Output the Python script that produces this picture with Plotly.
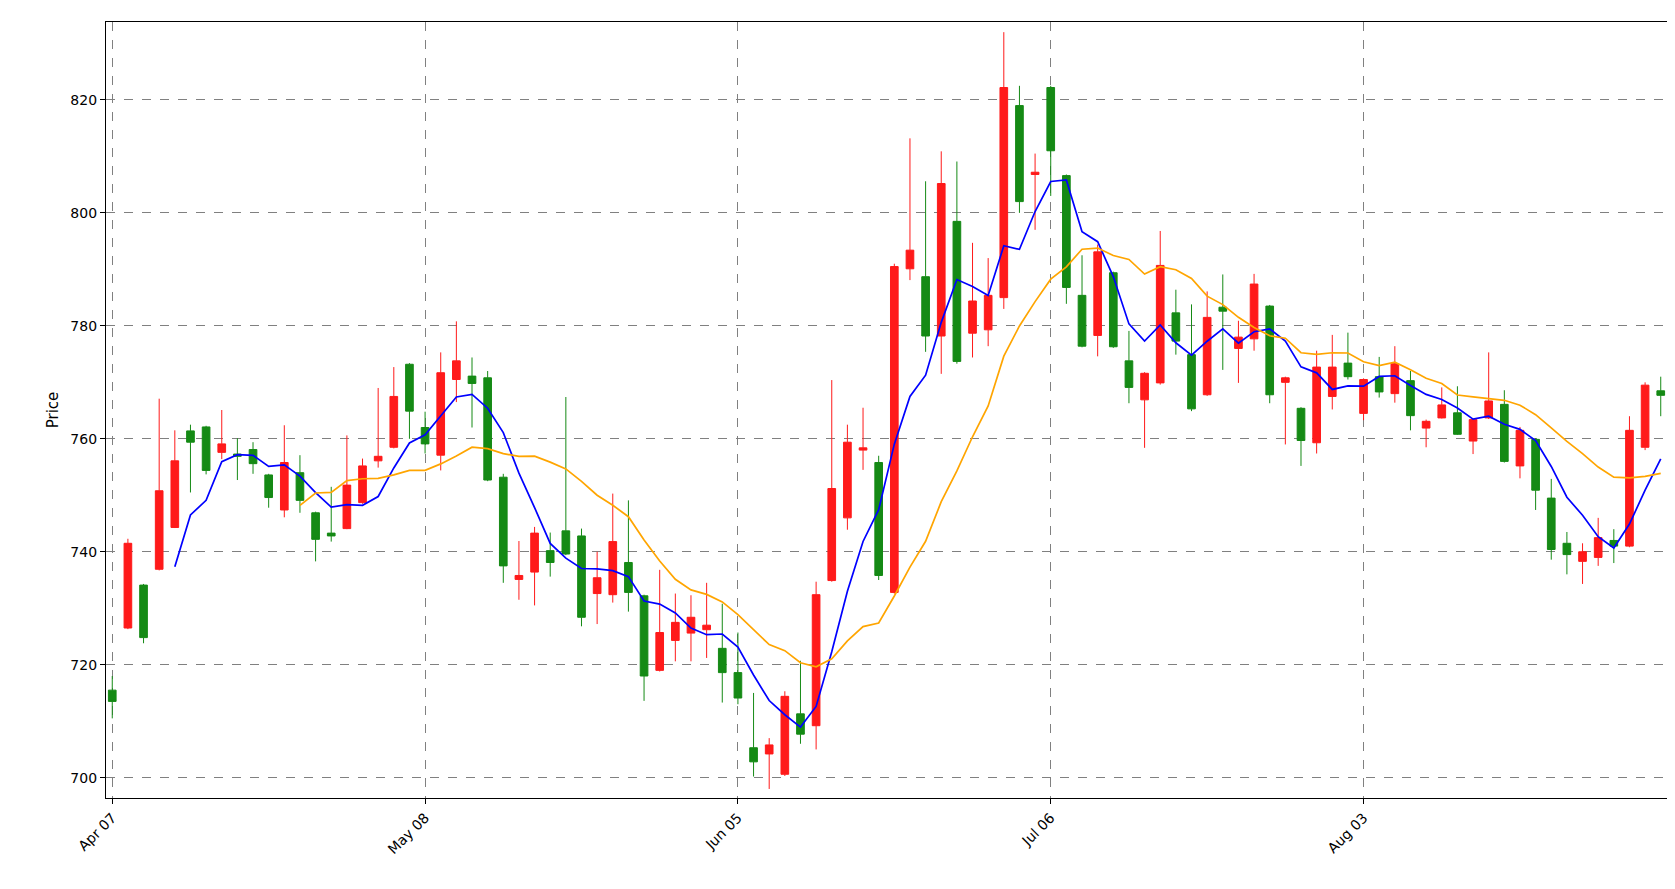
import pandas as pd
import plotly.graph_objects as go

# OHLC per trading day (index 0..99)
opens = [715.5, 726.5, 734.1, 736.9, 744.3, 761.4, 762.1, 757.6, 757.3, 758.1,
         753.6, 747.4, 754.0, 746.9, 743.3, 744.1, 748.7, 756.1, 758.5, 773.2,
         762.0, 757.1, 770.5, 771.1, 770.8, 753.2, 735.1, 736.4, 740.2, 743.7,
         742.8, 732.6, 732.4, 738.1, 732.2, 719.0, 724.3, 725.6, 726.2, 722.9,
         718.6, 705.3, 704.2, 700.6, 711.3, 709.2, 734.9, 746.0, 758.0, 755.8,
         732.8, 790.1, 788.7, 778.2, 798.5, 778.7, 779.3, 785.0, 819.0, 806.8,
         822.2, 806.6, 785.4, 778.3, 789.4, 773.8, 766.9, 769.9, 782.3, 774.9,
         767.8, 783.3, 776.0, 777.7, 783.5, 770.0, 765.4, 759.3, 767.5, 773.4,
         764.5, 771.0, 768.0, 770.3, 761.9, 763.7, 764.6, 759.6, 763.7, 766.1,
         755.2, 759.9, 749.5, 741.5, 738.3, 739.0, 742.0, 741.0, 758.5, 768.5]
highs = [718.0, 742.3, 734.3, 767.1, 761.5, 762.5, 762.3, 765.1, 760.1, 759.4,
         753.8, 762.4, 757.1, 747.1, 751.5, 760.6, 756.5, 769.0, 772.7, 773.4,
         764.8, 775.3, 780.8, 774.4, 772.0, 753.8, 741.9, 744.4, 743.4, 767.4,
         744.1, 740.0, 750.3, 749.1, 732.4, 736.8, 732.6, 732.3, 734.5, 730.8,
         725.7, 715.0, 707.0, 715.3, 720.7, 734.7, 770.4, 762.5, 765.5, 757.0,
         791.0, 813.2, 805.6, 810.9, 809.1, 794.7, 792.0, 832.0, 822.5, 810.5,
         822.5, 806.8, 792.5, 794.4, 789.6, 779.1, 771.8, 796.8, 786.4, 783.8,
         786.1, 789.1, 780.9, 789.2, 783.7, 771.0, 765.6, 775.6, 778.4, 778.8,
         770.7, 774.5, 776.4, 772.0, 763.4, 769.1, 769.3, 763.6, 775.3, 768.6,
         762.1, 760.1, 752.9, 743.5, 741.5, 746.0, 744.0, 764.0, 770.0, 771.0]
lows = [710.5, 726.3, 723.8, 736.7, 744.2, 750.5, 753.7, 756.4, 752.7, 753.8,
        747.8, 746.1, 746.9, 738.3, 741.8, 744.0, 748.5, 754.9, 758.3, 760.0,
        757.4, 754.4, 766.5, 762.0, 752.5, 734.5, 731.5, 730.5, 735.6, 739.4,
        726.8, 727.2, 731.0, 729.4, 713.6, 718.8, 720.6, 720.6, 721.2, 713.3,
        713.0, 700.2, 698.0, 700.3, 706.0, 705.0, 734.7, 743.9, 754.5, 735.0,
        732.6, 788.1, 775.4, 771.5, 773.3, 774.4, 776.4, 783.0, 800.0, 797.0,
        803.0, 783.9, 776.2, 774.6, 776.1, 766.3, 758.4, 769.6, 774.9, 764.9,
        767.6, 772.2, 769.9, 775.6, 766.3, 759.0, 755.2, 757.4, 765.2, 770.5,
        763.3, 767.3, 766.4, 761.5, 758.5, 763.6, 760.7, 757.3, 763.5, 755.8,
        753.0, 747.4, 738.6, 736.0, 734.3, 737.5, 738.0, 740.8, 758.0, 764.0]
closes = [713.5, 741.5, 724.8, 750.8, 756.1, 759.4, 754.4, 759.1, 756.9, 755.6,
          749.6, 755.8, 749.1, 742.2, 742.8, 751.8, 755.2, 756.9, 767.5, 764.9,
          759.1, 771.7, 773.8, 769.8, 752.7, 737.5, 735.8, 743.3, 738.1, 739.6,
          728.4, 735.4, 741.8, 732.8, 718.0, 725.7, 727.5, 728.4, 727.0, 718.6,
          714.1, 702.8, 705.8, 714.4, 707.7, 732.4, 751.2, 759.4, 758.4, 735.8,
          790.5, 793.4, 778.2, 805.2, 773.7, 784.4, 785.4, 822.2, 802.0, 807.2,
          811.0, 786.8, 776.4, 793.1, 776.3, 769.1, 771.6, 790.7, 777.3, 765.3,
          781.5, 782.6, 778.0, 787.4, 767.8, 770.8, 759.7, 772.7, 772.7, 771.0,
          770.5, 768.3, 773.3, 764.1, 763.1, 766.0, 760.8, 763.4, 766.7, 756.0,
          761.5, 750.9, 740.4, 739.5, 740.0, 742.5, 741.0, 761.5, 769.5, 767.7]

tick_pos = [0, 20, 40, 60, 80]
tick_labels = ['Apr 07', 'May 08', 'Jun 05', 'Jul 06', 'Aug 03']

df = pd.DataFrame({'open': opens, 'high': highs, 'low': lows, 'close': closes})
df['ma5'] = df['close'].rolling(5).mean()
df['ma13'] = df['close'].rolling(13).mean()

fig = go.Figure()
fig.add_trace(go.Candlestick(
    x=df.index, open=df['open'], high=df['high'], low=df['low'], close=df['close'],
    increasing=dict(line=dict(color='#ff1a1a', width=1), fillcolor='#ff1a1a'),
    decreasing=dict(line=dict(color='#158a15', width=1), fillcolor='#158a15'),
    whiskerwidth=0, showlegend=False,
))
fig.add_trace(go.Scatter(x=df.index, y=df['ma5'], mode='lines',
                         line=dict(color='blue', width=1.7), showlegend=False))
fig.add_trace(go.Scatter(x=df.index, y=df['ma13'], mode='lines',
                         line=dict(color='orange', width=1.7), showlegend=False))

axis_style = dict(
    showgrid=True, gridcolor='#808080', griddash='dash', gridwidth=1,
    showline=True, linecolor='black', linewidth=1.2, mirror=True,
    ticks='outside', tickcolor='black', ticklen=5, zeroline=False,
    tickfont=dict(family='DejaVu Sans', size=14, color='black'),
)
fig.update_layout(
    width=1675, height=889,
    plot_bgcolor='white', paper_bgcolor='white',
    margin=dict(l=98, r=16, t=14, b=99),
    xaxis=dict(axis_style, range=[-0.4, 99.4], tickmode='array',
               tickvals=tick_pos, ticktext=tick_labels, tickangle=-45,
               rangeslider=dict(visible=False)),
    yaxis=dict(axis_style, range=[696.4, 833.8], dtick=20,
               title=dict(text='Price', standoff=8,
                          font=dict(family='DejaVu Sans', size=15, color='black'))),
)

fig.write_html("out.html")
